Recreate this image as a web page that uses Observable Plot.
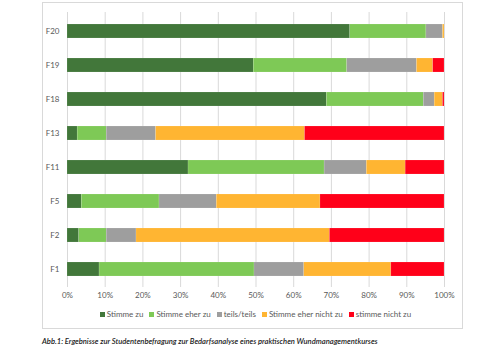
<!DOCTYPE html>
<html>
<head>
<meta charset="utf-8">
<script src="https://cdn.jsdelivr.net/npm/d3@7"></script>
<script src="https://cdn.jsdelivr.net/npm/@observablehq/plot@0.6"></script>
<style>
  html, body { margin: 0; padding: 0; background: #fff; }
  #wrap { position: relative; width: 480px; height: 356px; overflow: hidden; font-family: Lato, "Open Sans", sans-serif; }
  #frame { position: absolute; left: 42px; top: 2px; width: 419px; height: 325px; border: 1px solid #d9d9d9; }
  #chart { position: absolute; left: 0; top: 0; }
  #legend { position: absolute; left: 67px; width: 377px; top: 309px; display: flex; justify-content: center; gap: 6px; font-size: 8px; color: #595959; white-space: nowrap; }
  #legend span.sw { display: inline-block; width: 5px; height: 5px; margin-right: 2px; vertical-align: 0px; }
  #caption { position: absolute; left: 42px; top: 336px; font-size: 7.6px; font-style: italic; color: #222; white-space: nowrap; font-family: Lato, sans-serif; font-weight: 600; }
</style>
</head>
<body>
<div id="wrap">
  <div id="frame"></div>
  <div id="chart"></div>
  <div id="legend"></div>
  <div id="caption">Abb.1: Ergebnisse zur Studentenbefragung zur Bedarfsanalyse eines praktischen Wundmanagementkurses</div>
</div>
<script>
const questions = ["F20", "F19", "F18", "F13", "F11", "F5", "F2", "F1"];
const series = ["Stimme zu", "Stimme eher zu", "teils/teils", "Stimme eher nicht zu", "stimme nicht zu"];
const colors = ["#42773A", "#7EC956", "#9E9E9E", "#FFB532", "#FF0019"];
const xTicks = [0, 10, 20, 30, 40, 50, 60, 70, 80, 90, 100];

const stimmeZu        = [75.0, 49.4, 68.8,  2.7, 32.1,  3.8,  3.1,  8.5];
const stimmeEherZu    = [20.2, 24.8, 25.7,  7.7, 36.1, 20.6,  7.3, 41.1];
const teilsTeils      = [ 4.4, 18.5,  2.9, 13.1, 11.2, 15.2,  7.9, 13.2];
const stimmeEherNicht = [ 0.4,  4.3,  2.2, 39.5, 10.3, 27.5, 51.3, 23.1];
const stimmeNicht     = [ 0.0,  3.0,  0.4, 37.0, 10.3, 32.9, 30.4, 14.1];

const seriesValues = [stimmeZu, stimmeEherZu, teilsTeils, stimmeEherNicht, stimmeNicht];
const table = [];
series.forEach((s, si) => {
  questions.forEach((q, qi) => {
    table.push({question: q, answer: s, value: seriesValues[si][qi]});
  });
});

const chart = Plot.plot({
  width: 480,
  height: 310,
  marginLeft: 67,
  marginRight: 36,
  marginTop: 12,
  marginBottom: 23,
  style: {fontFamily: "Lato, 'Open Sans', sans-serif", fontSize: "8px", color: "#595959", background: "transparent"},
  x: {domain: [0, 100], ticks: xTicks, tickFormat: d => d + "%", label: null},
  y: {domain: questions, paddingInner: 0.59, paddingOuter: 0.295, label: null},
  color: {domain: series, range: colors},
  marks: [
    Plot.gridX(xTicks, {stroke: "#d9d9d9", strokeOpacity: 1}),
    Plot.barX(table, Plot.stackX({y: "question", x: "value", fill: "answer", order: series, stroke: "#ffffff", strokeOpacity: 0.25, strokeWidth: 0.5})),
    Plot.axisX(xTicks, {tickSize: 0, tickPadding: 5, tickFormat: d => d + "%", fill: "#595959"}),
    Plot.axisY({tickSize: 0, tickPadding: 8, fill: "#595959"})
  ]
});
document.getElementById("chart").appendChild(chart);

const legend = document.getElementById("legend");
series.forEach((s, i) => {
  const item = document.createElement("div");
  const sw = document.createElement("span");
  sw.className = "sw";
  sw.style.background = colors[i];
  item.appendChild(sw);
  item.appendChild(document.createTextNode(s));
  legend.appendChild(item);
});
</script>
</body>
</html>
